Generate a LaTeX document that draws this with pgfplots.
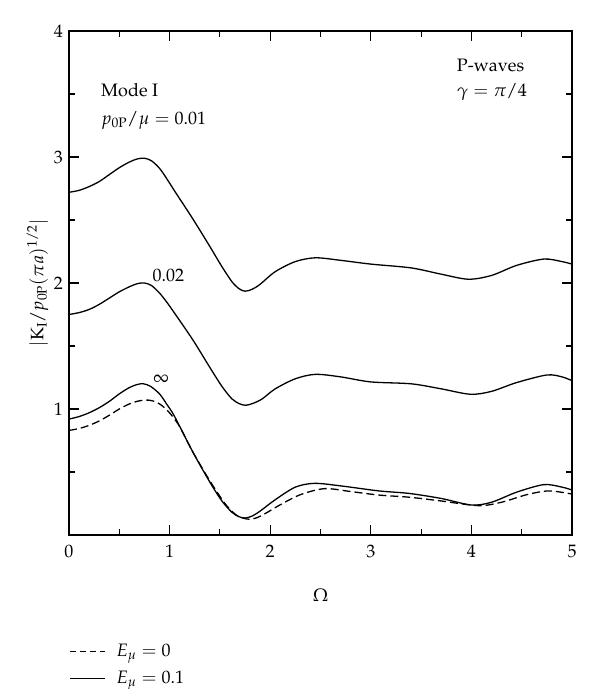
\documentclass[border=0pt]{standalone}
\usepackage[T1]{fontenc}
\usepackage{mathpazo}
\usepackage{pgfplots}
\pgfplotsset{compat=1.18}
\begin{document}
\fontsize{18}{21.6}\selectfont
\begin{tikzpicture}
\path[use as bounding box] (-69pt,-154pt) rectangle (531pt,535pt);
\begin{axis}[
  scale only axis, width=503pt, height=504pt,
  at={(0,0)}, anchor=south west,
  xmin=0, xmax=5, ymin=0, ymax=4,
  xtick={0,1,2,3,4,5}, ytick={1,2,3,4},
  minor xtick={0.5,1.5,2.5,3.5,4.5}, minor ytick={0.5,1.5,2.5,3.5},
  tick align=inside, major tick length=10pt, minor tick length=6pt,
  tick style={line width=1.1pt, black},
  axis line style={line width=1.2pt},
  font=\fontsize{18}{21.6}\selectfont,
  xticklabel style={yshift=-4pt},
  xlabel={$\Omega$},
  xlabel style={at={(axis description cs:0.5,0)}, anchor=base, yshift=-66pt},
  ylabel={$|\mathrm{K}_{\mathrm{I}}/p_{0\mathrm{P}}(\pi a)^{1/2}|$},
  ylabel style={at={(axis description cs:-0.0626,0.5)}, anchor=center},
  legend style={at={(0,-0.212)}, anchor=north west, draw=none, fill=none, inner sep=0pt,
    row sep=8pt, column sep=9pt, font=\fontsize{18}{21.6}\selectfont},
  legend cell align=left,
  legend image code/.code={\draw[#1, line width=1.3pt] (0pt,0pt) -- (35pt,0pt);},
  every axis plot/.append style={line width=1.3pt, black, smooth},
]
\addlegendimage{dash pattern=on 6pt off 4pt}
\addlegendentry{$E_{\mu}=0$}
\addlegendimage{solid}
\addlegendentry{$E_{\mu}=0.1$}

% p0P/mu = 0.01
\addplot[forget plot] coordinates {
(0,2.72) (0.1,2.735) (0.2,2.765) (0.3,2.805) (0.4,2.86) (0.5,2.915) (0.6,2.96)
(0.68,2.985) (0.75,2.99) (0.82,2.97) (0.9,2.91) (0.97,2.83) (1.05,2.73)
(1.23,2.51) (1.4,2.29) (1.52,2.13) (1.62,2.01) (1.69,1.955) (1.75,1.935)
(1.82,1.95) (1.9,1.99) (2.05,2.09)
(2.25,2.17) (2.45,2.20) (2.7,2.18) (3.0,2.15) (3.4,2.12) (3.7,2.07)
(3.97,2.03) (4.2,2.06) (4.45,2.14) (4.72,2.19) (4.9,2.17) (5.0,2.15)};

% 0.02
\addplot[forget plot] coordinates {
(0,1.75) (0.1,1.765) (0.2,1.79) (0.3,1.83) (0.4,1.88) (0.5,1.93) (0.6,1.97)
(0.68,1.995) (0.75,2.00) (0.82,1.98) (0.9,1.92) (0.97,1.85) (1.05,1.76)
(1.23,1.55) (1.4,1.33) (1.52,1.18) (1.62,1.08) (1.7,1.04) (1.76,1.03)
(1.83,1.045) (1.92,1.08) (2.05,1.16)
(2.25,1.24) (2.45,1.275) (2.7,1.255) (3.0,1.215) (3.4,1.20) (3.7,1.16)
(3.99,1.117) (4.2,1.14) (4.45,1.21) (4.75,1.27) (4.9,1.255) (5.0,1.225)};

% infinity, E=0.1 (solid)
\addplot[forget plot] coordinates {
(0,0.92) (0.1,0.94) (0.2,0.97) (0.3,1.01) (0.4,1.06) (0.5,1.12) (0.6,1.17)
(0.68,1.195) (0.74,1.20) (0.81,1.18) (0.9,1.12) (0.97,1.04) (1.05,0.94)
(1.23,0.66) (1.4,0.42) (1.52,0.27) (1.62,0.18) (1.69,0.145) (1.75,0.135)
(1.82,0.15) (1.9,0.19)
(2.05,0.28) (2.25,0.38) (2.44,0.41) (2.7,0.39) (3.08,0.35) (3.38,0.33)
(3.7,0.29) (4.0,0.238) (4.2,0.26) (4.45,0.34) (4.72,0.40) (4.9,0.38) (5.0,0.357)};

% infinity, E=0 (dashed)
\addplot[forget plot, dash pattern=on 8pt off 4pt] coordinates {
(0,0.83) (0.1,0.845) (0.2,0.87) (0.3,0.905) (0.4,0.95) (0.5,1.0) (0.6,1.04)
(0.7,1.065) (0.8,1.07) (0.88,1.05) (0.95,1.01) (1.02,0.95) (1.1,0.86)
(1.23,0.66) (1.4,0.43) (1.55,0.25) (1.66,0.16) (1.73,0.135) (1.79,0.125)
(1.86,0.135) (1.95,0.17)
(2.1,0.24) (2.3,0.32) (2.54,0.368) (2.8,0.345) (3.08,0.317) (3.38,0.30)
(3.7,0.27) (4.07,0.233) (4.3,0.26) (4.55,0.32) (4.77,0.35) (5.0,0.325)};

\node[anchor=base west, inner sep=0pt] at (axis cs:0.318,3.48) {Mode I};
\node[anchor=base west, inner sep=0pt] at (axis cs:0.318,3.257) {$p_{0\mathrm{P}}/\mu=0.01$};
\node[anchor=base west, inner sep=0pt] at (axis cs:3.854,3.677) {P-waves};
\node[anchor=base west, inner sep=0pt] at (axis cs:3.854,3.48) {$\gamma=\pi/4$};
\node[anchor=base west, inner sep=0pt] at (axis cs:0.83,2.01) {0.02};
\node[anchor=base, inner sep=0pt] at (axis cs:0.915,1.206) {$\infty$};
\end{axis}
\end{tikzpicture}
\end{document}
